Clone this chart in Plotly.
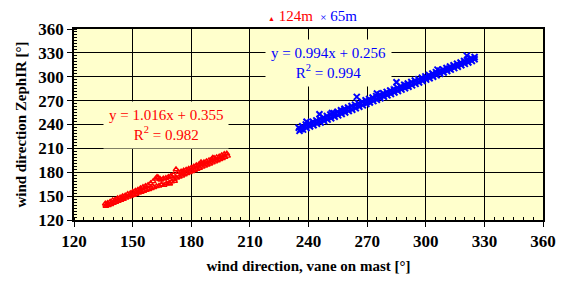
import plotly.graph_objects as go

# 124m series (red)
red_x = [136.0, 136.3, 137.2, 137.6, 138.5, 138.9, 139.8, 140.2, 141.0, 141.4,
         142.3, 142.7, 143.6, 144.0, 144.9, 145.3, 146.2, 146.6, 147.5, 147.9,
         148.8, 149.2, 150.1, 150.5, 151.4, 151.8, 152.7, 153.1, 154.0, 154.4,
         155.3, 155.7, 156.6, 157.0, 157.9, 158.3, 159.2, 159.6, 160.5, 160.9,
         161.8, 162.2, 163.1, 163.5, 164.4, 164.8, 165.7, 166.1, 167.0, 167.4,
         168.3, 168.7, 169.6, 170.0, 170.9, 171.3, 172.2, 172.6, 173.5, 173.9,
         174.8, 175.2, 176.1, 176.5, 177.4, 177.8, 178.7, 179.1, 180.0, 180.4,
         181.3, 181.7, 182.6, 183.0, 183.9, 184.3, 185.2, 185.6, 186.5, 186.9,
         187.8, 188.2, 189.1, 189.5, 190.4, 190.8, 191.7, 192.1, 193.0, 193.4,
         194.3, 194.7, 195.6, 196.0, 196.9, 197.3, 198.2, 198.6,
         162.5, 164.0, 169.0, 171.5, 185.0, 191.0, 137.0, 145.0, 153.5, 175.5]
red_y = [140.5, 137.6, 141.3, 138.4, 142.9, 139.8, 144.6, 141.3, 145.2, 142.5,
         147.0, 143.9, 148.1, 145.0, 149.8, 146.2, 150.7, 147.9, 152.6, 149.0,
         153.4, 150.3, 155.2, 151.4, 156.5, 152.6, 157.8, 154.2, 159.6, 155.0,
         161.2, 156.3, 162.5, 157.6, 163.8, 158.5, 165.9, 159.8, 168.5, 161.0,
         171.8, 162.3, 173.2, 163.0, 170.4, 164.6, 171.9, 163.8, 172.6, 165.9,
         174.0, 166.5, 175.3, 168.4, 176.8, 171.0, 183.5, 173.0, 180.2, 174.3,
         180.6, 175.6, 182.0, 177.2, 183.1, 178.6, 184.3, 180.0, 185.4, 181.2,
         186.9, 182.6, 188.5, 183.9, 189.6, 185.3, 191.0, 186.8, 192.3, 188.0,
         193.6, 189.4, 195.0, 190.7, 196.1, 192.1, 197.6, 193.4, 198.7, 194.8,
         199.5, 196.3, 201.3, 197.6, 202.6, 199.1, 203.4, 200.6,
         174.0, 171.5, 165.5, 168.8, 192.5, 198.0, 139.2, 147.3, 155.9, 178.4]

# 65m series (blue)
blue_x = [235.0, 235.4, 236.8, 237.2, 238.6, 239.0, 240.4, 240.8, 242.2, 242.6,
          244.0, 244.4, 245.8, 246.2, 247.6, 248.0, 249.4, 249.8, 251.2, 251.6,
          253.0, 253.4, 254.8, 255.2, 256.6, 257.0, 258.4, 258.8, 260.2, 260.6,
          262.0, 262.4, 263.8, 264.2, 265.6, 266.0, 267.4, 267.8, 269.2, 269.6,
          271.0, 271.4, 272.8, 273.2, 274.6, 275.0, 276.4, 276.8, 278.2, 278.6,
          280.0, 280.4, 281.8, 282.2, 283.6, 284.0, 285.4, 285.8, 287.2, 287.6,
          289.0, 289.4, 290.8, 291.2, 292.6, 293.0, 294.4, 294.8, 296.2, 296.6,
          298.0, 298.4, 299.8, 300.2, 301.6, 302.0, 303.4, 303.8, 305.2, 305.6,
          307.0, 307.4, 308.8, 309.2, 310.6, 311.0, 312.4, 312.8, 314.2, 314.6,
          316.0, 316.4, 317.8, 318.2, 319.6, 320.0, 321.4, 321.8, 323.2, 323.6,
          325.0, 325.0,
          321.0, 285.0, 264.7, 245.6, 239.0, 252.0, 275.0, 306.0, 236.0, 258.0,
          270.0, 290.0, 300.0, 312.0]
blue_y = [236.0, 232.0, 238.0, 233.6, 239.9, 235.5, 241.6, 237.4, 243.5, 239.0,
          245.2, 240.9, 247.1, 242.6, 248.9, 244.4, 250.6, 246.1, 252.5, 247.9,
          254.2, 249.8, 256.1, 251.5, 257.8, 253.3, 259.7, 255.0, 261.4, 256.9,
          263.2, 258.6, 265.0, 260.4, 266.8, 262.2, 268.5, 264.0, 270.4, 265.8,
          272.1, 267.6, 274.0, 269.4, 275.7, 271.2, 277.5, 273.0, 279.2, 274.8,
          281.0, 276.6, 282.8, 278.4, 284.6, 280.2, 286.3, 282.0, 288.1, 283.8,
          289.9, 285.6, 291.6, 287.4, 293.4, 289.2, 295.2, 291.0, 297.0, 292.8,
          298.7, 294.6, 300.5, 296.4, 302.3, 298.2, 304.0, 300.0, 305.8, 301.8,
          307.5, 303.6, 309.3, 305.4, 311.0, 307.2, 312.8, 309.0, 314.5, 310.8,
          316.3, 312.6, 318.0, 314.4, 319.8, 316.2, 321.6, 318.0, 323.3, 319.8,
          324.8, 322.0,
          326.5, 293.0, 274.7, 252.8, 243.5, 254.5, 279.0, 309.0, 234.0, 257.2,
          268.5, 288.6, 298.3, 310.2]

tick_vals = [120, 150, 180, 210, 240, 270, 300, 330, 360]
tick_text = ["<b>%d</b>" % v for v in tick_vals]

eq_red = ["y = 1.016x + 0.355", "R<sup>2</sup> = 0.982"]
eq_blue = ["y = 0.994x + 0.256", "R<sup>2</sup> = 0.994"]
series_names = ["124m", "65m"]

FONT = "Liberation Serif, Times New Roman, serif"
RED = "#FF0000"
BLUE = "#0000FF"
BG = "#FFFFCC"

fig = go.Figure()
fig.add_trace(go.Scatter(x=red_x, y=red_y, mode="markers", name=series_names[0],
                         marker=dict(symbol="triangle-up-open", size=5, color=RED,
                                     line=dict(width=1.4, color=RED))))
fig.add_trace(go.Scatter(x=blue_x, y=blue_y, mode="markers", name=series_names[1],
                         marker=dict(symbol="x-thin", size=6, color=BLUE,
                                     line=dict(width=2, color=BLUE))))

axis_common = dict(
    range=[120, 360], tickvals=tick_vals, ticktext=tick_text,
    showgrid=True, gridcolor="#000000", gridwidth=1,
    showline=True, linecolor="#000000", linewidth=1.5, mirror=True,
    ticks="outside", ticklen=5, tickcolor="#000000", tickwidth=1,
    tickfont=dict(family=FONT, size=17, color="#000000", weight="bold"),
    zeroline=False, fixedrange=True,
)

fig.update_xaxes(**axis_common,
                 minor=dict(ticks="inside", ticklen=3, dtick=5, tick0=120,
                            tickcolor="#000000", showgrid=False),
                 title=dict(text="<b>wind direction, vane on mast [°]</b>",
                            font=dict(family=FONT, size=15, color="#000000", weight="bold"),
                            standoff=10))
fig.update_yaxes(**axis_common,
                 minor=dict(ticks="inside", ticklen=3, dtick=3.75, tick0=120,
                            tickcolor="#000000", showgrid=False),
                 title=dict(text="<b>wind direction ZephIR [°]</b>",
                            font=dict(family=FONT, size=15, color="#000000", weight="bold"),
                            standoff=8))

fig.add_annotation(x=166.9, y=240.0, xref="x", yref="y", text="<br>".join(eq_red),
                   showarrow=False, font=dict(family=FONT, size=15, color=RED),
                   bgcolor=BG, borderpad=5, align="center")
fig.add_annotation(x=250.2, y=317.6, xref="x", yref="y", text="<br>".join(eq_blue),
                   showarrow=False, font=dict(family=FONT, size=15, color=BLUE),
                   bgcolor=BG, borderpad=5, align="center")

# legend drawn as text
fig.add_annotation(
    x=0.508, y=1.0, xref="paper", yref="paper", yanchor="bottom", yshift=3,
    showarrow=False, align="center",
    text=("<span style='color:#FF0000'><span style='font-size:7px'>▲</span> "
          + series_names[0] + "</span>  "
          "<span style='color:#0000FF'><span style='font-size:11px'>×</span> "
          + series_names[1] + "</span>"),
    font=dict(family=FONT, size=15))

# page body has an 8px default margin; size the figure so the plot lands where the reference has it
fig.update_layout(
    width=560, height=276,
    margin=dict(l=65, r=19, t=21, b=58),
    paper_bgcolor="#FFFFFF", plot_bgcolor=BG,
    showlegend=False,
    font=dict(family=FONT),
)

fig.write_html("out.html")
